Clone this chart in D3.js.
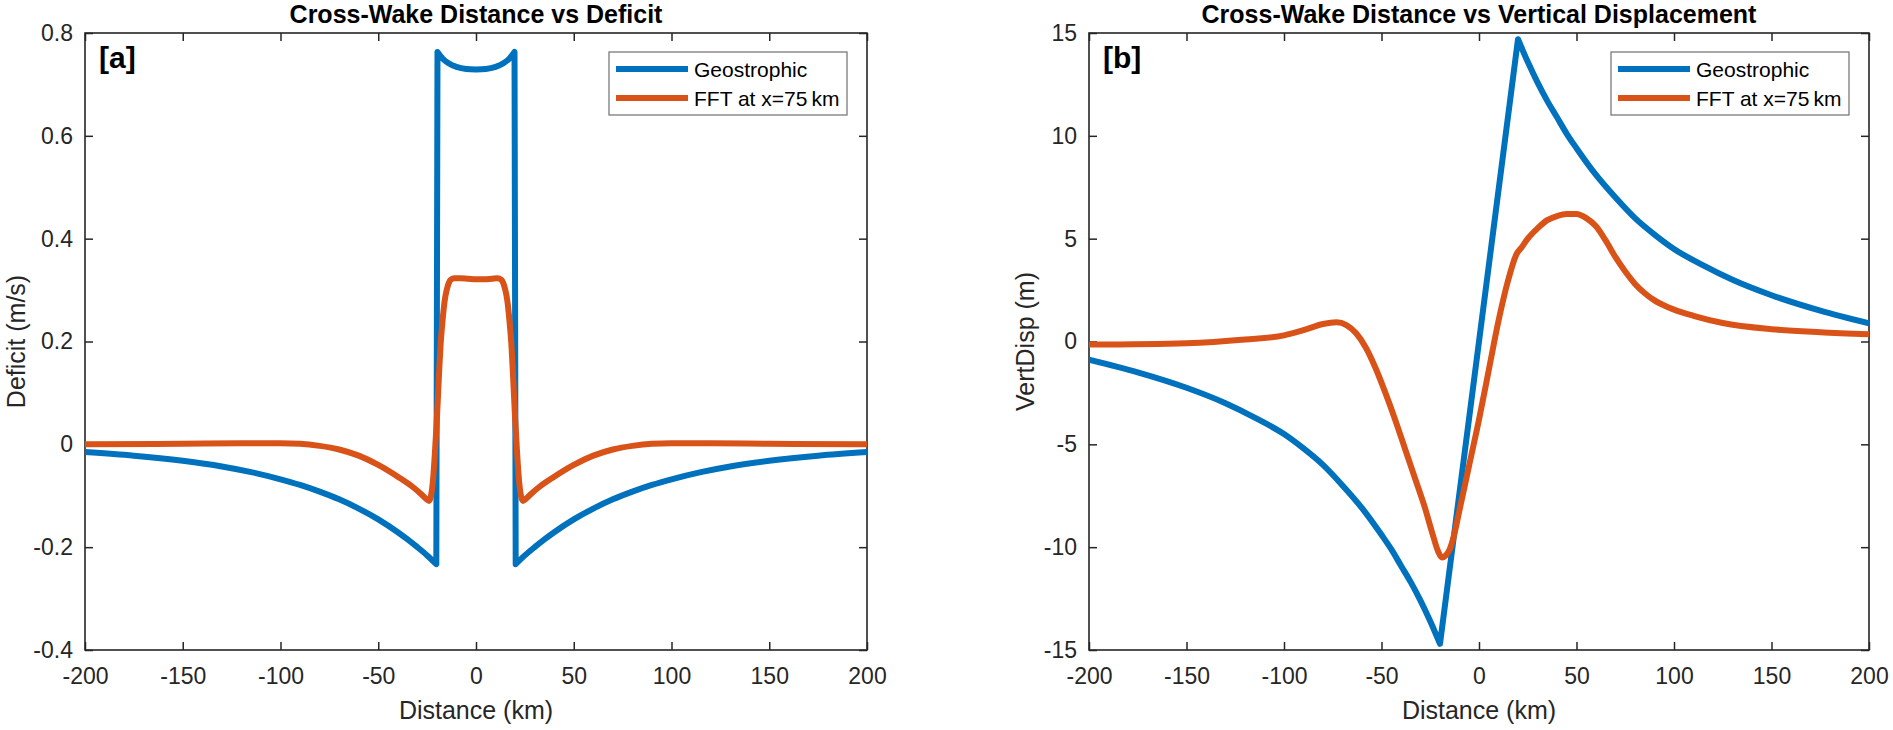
<!DOCTYPE html>
<html>
<head>
<meta charset="utf-8">
<script src="https://cdn.jsdelivr.net/npm/d3@7"></script>
<style>
  body { margin: 0; background: #fff; }
  svg { display: block; font-family: "Liberation Sans", Arial, sans-serif; }
</style>
</head>
<body>
<div id="chart"></div>
<script>
// tick values
var xTicks = [-200, -150, -100, -50, 0, 50, 100, 150, 200];
var deficitTicks = [-0.4, -0.2, 0, 0.2, 0.4, 0.6, 0.8];
var dispTicks = [-15, -10, -5, 0, 5, 10, 15];
var legendLabels = ["Geostrophic", "FFT at x=75\u2009km"];

// panel a: deficit (m/s)
var geoDefX = [-200, -175, -150, -130, -115, -100, -90, -80, -70, -60, -50, -40, -35, -30, -25, -20.3,
  -19.7, -17, -14, -10, -5, 0, 5, 10, 14, 17, 19.7,
  20.3, 25, 30, 35, 40, 50, 60, 70, 80, 90, 100, 115, 130, 150, 175, 200];
var geoDefY = [-0.015, -0.022, -0.032, -0.043, -0.054, -0.068, -0.079, -0.092, -0.107, -0.125, -0.146, -0.171, -0.185, -0.200, -0.216, -0.233,
  0.763, 0.750, 0.741, 0.734, 0.730, 0.729, 0.730, 0.734, 0.741, 0.750, 0.763,
  -0.233, -0.216, -0.200, -0.185, -0.171, -0.146, -0.125, -0.107, -0.092, -0.079, -0.068, -0.054, -0.043, -0.032, -0.022, -0.015];
var fftDefX = [-200, -150, -120, -100, -90, -80, -70, -60, -50, -40, -32, -28, -25.5, -24, -23, -22, -21, -20, -19, -18, -17, -16, -15, -14, -13, -11, -8, -4,
  0, 4, 8, 11, 13, 14, 15, 16, 17, 18, 19, 20, 21, 22, 23, 24, 25.5, 28, 32, 40, 50, 60, 70, 80, 90, 100, 120, 150, 200];
var fftDefY = [0, 0.001, 0.002, 0.002, 0.001, -0.003, -0.010, -0.022, -0.040, -0.063, -0.084, -0.097, -0.106, -0.110, -0.100, -0.070, -0.015, 0.05, 0.13, 0.20, 0.245, 0.28, 0.30, 0.313, 0.32, 0.323, 0.323, 0.322,
  0.321, 0.321, 0.322, 0.323, 0.32, 0.313, 0.30, 0.28, 0.245, 0.20, 0.13, 0.05, -0.015, -0.070, -0.100, -0.110, -0.106, -0.097, -0.084, -0.063, -0.040, -0.022, -0.010, -0.003, 0.001, 0.002, 0.002, 0.001, 0];

// panel b: vertical displacement (m)
var geoDispX = [-200, -175, -150, -130, -115, -100, -90, -80, -70, -60, -50, -45, -40, -35, -30, -25, -20,
  20, 25, 30, 35, 40, 45, 50, 60, 70, 80, 90, 100, 115, 130, 150, 175, 200];
var geoDispY = [-0.88, -1.5, -2.25, -3.0, -3.7, -4.5, -5.2, -6.0, -7.0, -8.1, -9.4, -10.1, -10.9, -11.7, -12.6, -13.6, -14.7,
  14.7, 13.6, 12.6, 11.7, 10.9, 10.1, 9.4, 8.1, 7.0, 6.0, 5.2, 4.5, 3.7, 3.0, 2.25, 1.5, 0.88];
var fftDispX = [-200, -150, -120, -100, -90, -80, -73, -68, -63, -58, -53, -48, -43, -38, -33, -28, -24, -21, -19, -17, -15, -13, -10, -5,
  0, 5, 10, 15, 19, 22, 25, 30, 35, 40, 45, 50, 55, 60, 65, 70, 75, 80, 85, 90, 95, 100, 110, 125, 150, 175, 200];
var fftDispY = [-0.15, -0.08, 0.1, 0.3, 0.55, 0.85, 0.93, 0.8, 0.4, -0.3, -1.3, -2.5, -3.8, -5.2, -6.6, -8.0, -9.3, -10.2, -10.5, -10.4, -10.1, -9.5, -8.2, -6.0,
  -3.8, -1.4, 1.0, 3.0, 4.2, 4.6, 5.0, 5.5, 5.9, 6.1, 6.2, 6.2, 6.0, 5.6, 4.9, 4.1, 3.4, 2.8, 2.35, 2.0, 1.75, 1.55, 1.25, 0.9, 0.6, 0.45, 0.35];

var W = 1893, H = 730;
var blue = "#0072BD", orange = "#D95319", axisColor = "#262626";

var svg = d3.select("#chart").append("svg")
  .attr("width", W)
  .attr("height", H);

var zip = function(xs, ys) {
  return xs.map(function(x, i) { return [x, ys[i]]; });
};

var fmt = function(d) { return String(Math.round(d * 10) / 10); };

// smooth each monotone run separately so the peaks and jumps stay sharp
var piecewisePath = function(pts, gen) {
  var pieces = [], cur = [pts[0]], lastSign = 0;
  for (var i = 1; i < pts.length; i++) {
    var s = Math.sign(pts[i][1] - pts[i - 1][1]);
    if (lastSign !== 0 && s !== 0 && s !== lastSign) {
      pieces.push(cur);
      cur = [pts[i - 1]];
    }
    cur.push(pts[i]);
    if (s !== 0) lastSign = s;
  }
  pieces.push(cur);
  return pieces.map(function(p, i) {
    var d = gen(p);
    return i ? d.replace(/^M/, "L") : d;
  }).join("");
};

var drawPanel = function(opts) {
  var x = d3.scaleLinear().domain([-200, 200]).range([opts.left, opts.right]);
  var y = d3.scaleLinear().domain(opts.yDomain).range([650, 33]);
  var g = svg.append("g");

  g.append("clipPath").attr("id", "clip-" + opts.id)
    .append("rect")
    .attr("x", opts.left).attr("y", 33)
    .attr("width", opts.right - opts.left).attr("height", 617);

  // box + inside ticks on all four sides
  g.append("g").attr("class", "tick-axis")
    .attr("transform", "translate(0,650)")
    .call(d3.axisBottom(x).tickValues(xTicks).tickSize(-8).tickPadding(18).tickFormat(fmt));
  g.append("g").attr("class", "tick-axis")
    .attr("transform", "translate(0,33)")
    .call(d3.axisTop(x).tickValues(xTicks).tickSize(-8).tickFormat(""));
  g.append("g").attr("class", "tick-axis")
    .attr("transform", "translate(" + opts.left + ",0)")
    .call(d3.axisLeft(y).tickValues(opts.yTicks).tickSize(-8).tickPadding(12).tickFormat(fmt));
  g.append("g").attr("class", "tick-axis")
    .attr("transform", "translate(" + opts.right + ",0)")
    .call(d3.axisRight(y).tickValues(opts.yTicks).tickSize(-8).tickFormat(""));

  g.selectAll(".tick-axis .domain").remove();
  g.selectAll(".tick-axis line").attr("stroke", axisColor).attr("stroke-width", 1.5);
  g.selectAll(".tick-axis text").attr("font-size", 23).attr("fill", axisColor)
    .attr("font-family", "Liberation Sans, Arial, sans-serif");

  g.append("rect")
    .attr("x", opts.left).attr("y", 33)
    .attr("width", opts.right - opts.left).attr("height", 617)
    .attr("fill", "none").attr("stroke", axisColor).attr("stroke-width", 1.6);

  var lineSmooth = d3.line().curve(d3.curveMonotoneX)
    .x(function(d) { return x(d[0]); }).y(function(d) { return y(d[1]); });

  var plot = g.append("g").attr("clip-path", "url(#clip-" + opts.id + ")");
  plot.append("path")
    .attr("d", piecewisePath(zip(opts.geoX, opts.geoY), lineSmooth)).attr("fill", "none")
    .attr("stroke", blue).attr("stroke-width", 6).attr("stroke-linejoin", "round");
  plot.append("path").datum(zip(opts.fftX, opts.fftY))
    .attr("d", lineSmooth).attr("fill", "none")
    .attr("stroke", orange).attr("stroke-width", 6).attr("stroke-linejoin", "round");

  var mid = (opts.left + opts.right) / 2;

  g.append("text").attr("x", mid).attr("y", 23)
    .attr("text-anchor", "middle").attr("font-weight", "bold").attr("font-size", 25)
    .attr("fill", "#000").text(opts.title);
  g.append("text").attr("x", mid).attr("y", 719)
    .attr("text-anchor", "middle").attr("font-size", 25)
    .attr("fill", axisColor).text("Distance (km)");
  g.append("text")
    .attr("transform", "translate(" + opts.yLabelX + ",341.5) rotate(-90)")
    .attr("text-anchor", "middle").attr("font-size", 25)
    .attr("fill", axisColor).text(opts.yLabel);
  g.append("text").attr("x", opts.left + 14).attr("y", 68)
    .attr("font-weight", "bold").attr("font-size", 30)
    .attr("fill", "#000").text(opts.tag);

  // legend
  var lw = 238, lh = 63;
  var lx = opts.right - 20 - lw, ly = 52;
  var leg = g.append("g");
  leg.append("rect").attr("x", lx).attr("y", ly).attr("width", lw).attr("height", lh)
    .attr("fill", "#fff").attr("stroke", "#7a7a7a").attr("stroke-width", 1.3);
  [blue, orange].forEach(function(c, i) {
    var yy = ly + 17 + i * 29;
    leg.append("line")
      .attr("x1", lx + 7).attr("x2", lx + 79)
      .attr("y1", yy).attr("y2", yy)
      .attr("stroke", c).attr("stroke-width", 6);
    leg.append("text")
      .attr("x", lx + 85).attr("y", yy)
      .attr("dy", "0.36em")
      .attr("font-size", 21).attr("fill", "#000")
      .text(legendLabels[i]);
  });
};

drawPanel({
  id: "a", left: 85, right: 867, yDomain: [-0.4, 0.8], yTicks: deficitTicks,
  geoX: geoDefX, geoY: geoDefY, fftX: fftDefX, fftY: fftDefY,
  title: "Cross-Wake Distance vs Deficit", yLabel: "Deficit (m/s)", yLabelX: 25, tag: "[a]"
});
drawPanel({
  id: "b", left: 1089, right: 1869, yDomain: [-15, 15], yTicks: dispTicks,
  geoX: geoDispX, geoY: geoDispY, fftX: fftDispX, fftY: fftDispY,
  title: "Cross-Wake Distance vs Vertical Displacement", yLabel: "VertDisp (m)", yLabelX: 1034, tag: "[b]"
});
</script>
</body>
</html>
